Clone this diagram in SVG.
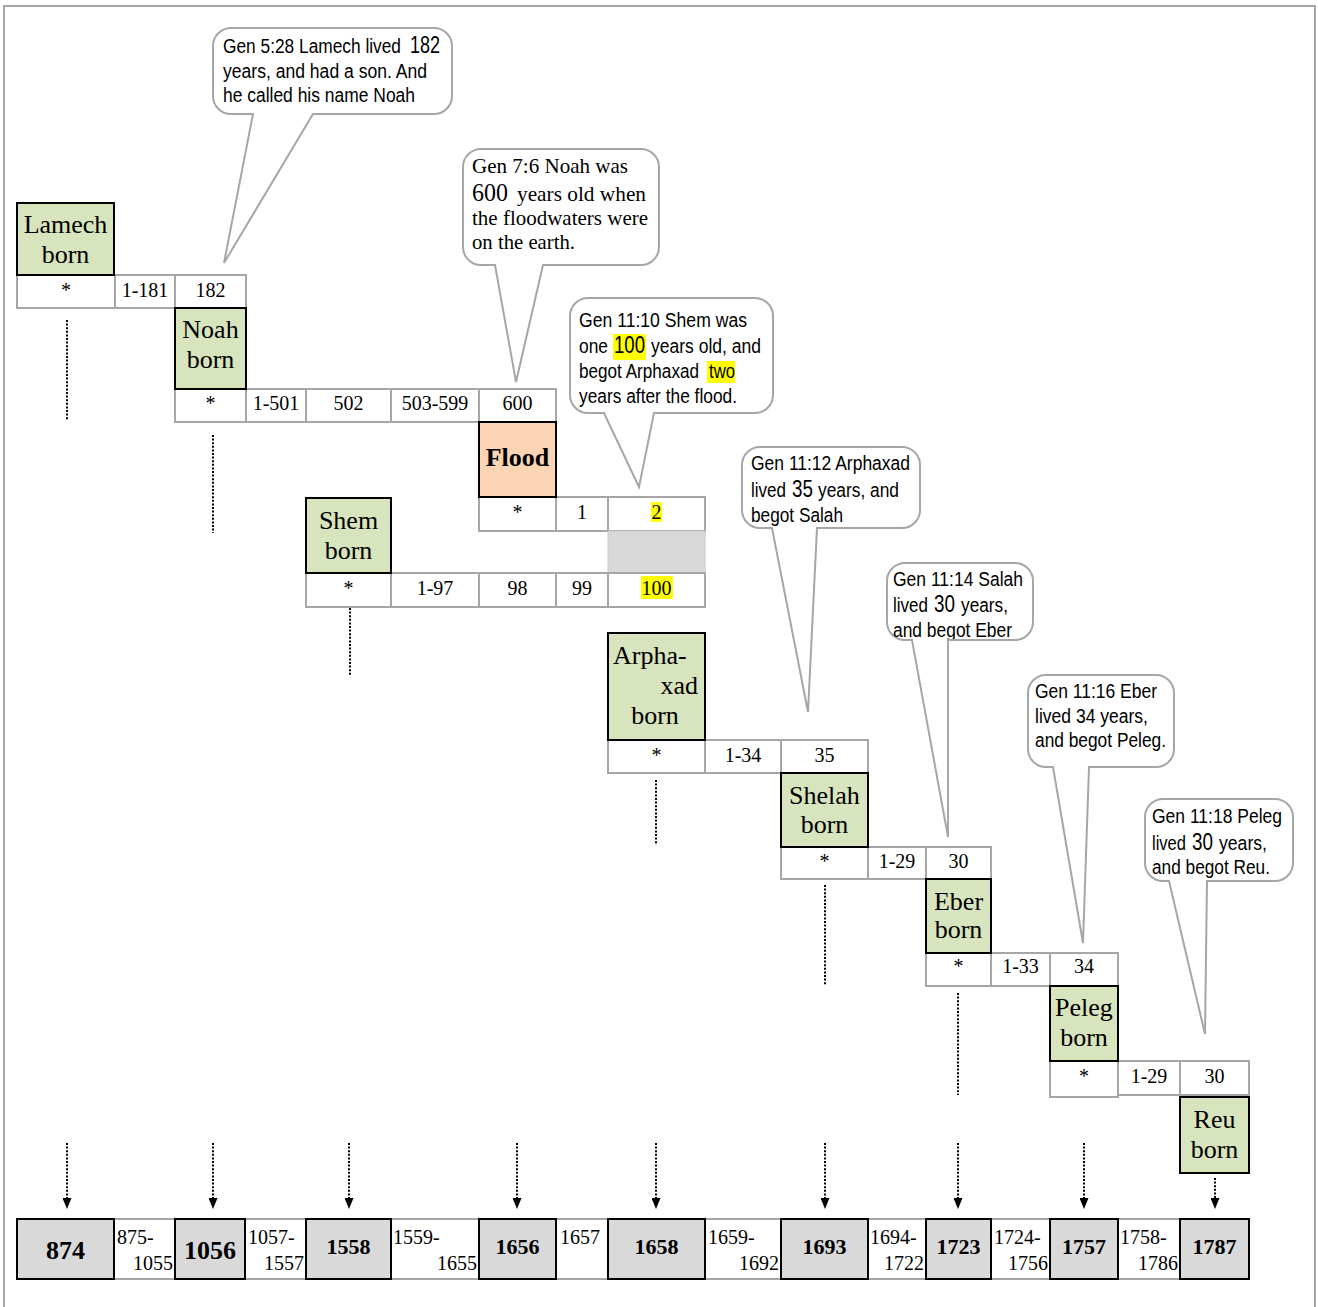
<svg xmlns="http://www.w3.org/2000/svg" width="1318" height="1307" viewBox="0 0 1318 1307">
<style>
.frame{fill:none;stroke:#a6a6a6;stroke-width:2}
.cell{fill:#fff;stroke:#a6a6a6;stroke-width:2}
.node{fill:#d7e4bd;stroke:#000;stroke-width:2}
.flood{fill:#fbd4b4;stroke:#000;stroke-width:2}
.tl{fill:#d9d9d9;stroke:#000;stroke-width:2}
.gray{fill:#d9d9d9;stroke:#c8c8c8;stroke-width:1}
.t{font-family:"Liberation Serif","Times New Roman",serif;fill:#000}
.nt{font-size:26px;text-anchor:middle}
.ct{font-size:20px;text-anchor:middle}
.gt{font-size:20px}
.bt{font-weight:bold;text-anchor:middle}
.co{fill:#fff;stroke:#a6a6a6;stroke-width:2}
.cs{font-family:"Liberation Sans Narrow","Liberation Sans",Arial,sans-serif;font-size:20px;fill:#000}
.big{font-size:23px}
.cr{font-family:"Liberation Serif","Times New Roman",serif;font-size:21px;fill:#000}
.hl{fill:#ffff00}
.dot{stroke:#000;stroke-width:2;stroke-dasharray:2 1.6;fill:none}
</style>
<defs>
<marker id="ah" markerWidth="11" markerHeight="9" refX="0" refY="4.5" orient="auto" markerUnits="userSpaceOnUse">
<path d="M0,0 L11,4.5 L0,9 Z" fill="#000"/>
</marker>
<clipPath id="c4"><rect x="742" y="447" width="178" height="80"/></clipPath>
<clipPath id="c5"><rect x="887" y="563" width="146" height="76"/></clipPath>
<clipPath id="c7"><rect x="1145" y="799" width="148" height="81"/></clipPath>
</defs>
<rect class="frame" x="4" y="6" width="1311" height="1320"/>

<g id="connectors">
<line class="dot" x1="67" y1="320" x2="67" y2="420"/>
<line class="dot" x1="213" y1="435" x2="213" y2="533"/>
<line class="dot" x1="350" y1="608" x2="350" y2="676"/>
<line class="dot" x1="656" y1="780" x2="656" y2="845"/>
<line class="dot" x1="825" y1="885" x2="825" y2="985"/>
<line class="dot" x1="958" y1="993" x2="958" y2="1095"/>
<line class="dot" x1="67" y1="1143" x2="67" y2="1198" marker-end="url(#ah)"/>
<line class="dot" x1="213" y1="1143" x2="213" y2="1198" marker-end="url(#ah)"/>
<line class="dot" x1="349" y1="1143" x2="349" y2="1198" marker-end="url(#ah)"/>
<line class="dot" x1="517" y1="1143" x2="517" y2="1198" marker-end="url(#ah)"/>
<line class="dot" x1="656" y1="1143" x2="656" y2="1198" marker-end="url(#ah)"/>
<line class="dot" x1="825" y1="1143" x2="825" y2="1198" marker-end="url(#ah)"/>
<line class="dot" x1="958" y1="1143" x2="958" y2="1198" marker-end="url(#ah)"/>
<line class="dot" x1="1084" y1="1143" x2="1084" y2="1198" marker-end="url(#ah)"/>
<line class="dot" x1="1215" y1="1178" x2="1215" y2="1198" marker-end="url(#ah)"/>
</g>

<g id="lamech-row">
<rect class="cell" x="17" y="275" width="98" height="33"/>
<rect class="cell" x="115" y="275" width="60" height="33"/>
<rect class="cell" x="175" y="275" width="71" height="33"/>
<text class="t ct" x="66" y="297">*</text>
<text class="t ct" x="145" y="297">1-181</text>
<text class="t ct" x="210.5" y="297">182</text>
</g>
<g id="lamech">
<rect class="node" x="17" y="203" width="97" height="72"/>
<text class="t nt" x="65.5" y="233">Lamech</text>
<text class="t nt" x="65.5" y="263">born</text>
</g>

<g id="noah-row">
<rect class="cell" x="175" y="389" width="71" height="33"/>
<rect class="cell" x="246" y="389" width="60" height="33"/>
<rect class="cell" x="306" y="389" width="85" height="33"/>
<rect class="cell" x="391" y="389" width="88" height="33"/>
<rect class="cell" x="479" y="389" width="77" height="33"/>
<text class="t ct" x="210.5" y="410">*</text>
<text class="t ct" x="276" y="410">1-501</text>
<text class="t ct" x="348.5" y="410">502</text>
<text class="t ct" x="435" y="410">503-599</text>
<text class="t ct" x="517.5" y="410">600</text>
</g>
<g id="noah">
<rect class="node" x="175" y="308" width="71" height="81"/>
<text class="t nt" x="210.5" y="338">Noah</text>
<text class="t nt" x="210.5" y="368">born</text>
</g>

<g id="flood-row">
<rect class="cell" x="479" y="497" width="77" height="34"/>
<rect class="cell" x="556" y="497" width="52" height="34"/>
<rect class="cell" x="608" y="497" width="97" height="34"/>
<rect class="hl" x="651" y="502" width="11" height="20"/>
<text class="t ct" x="517.5" y="519">*</text>
<text class="t ct" x="582" y="519">1</text>
<text class="t ct" x="656.5" y="519">2</text>
<rect class="gray" x="608" y="531" width="97" height="42"/>
</g>
<g id="flood">
<rect class="flood" x="479" y="422" width="77" height="75"/>
<text class="t bt" style="font-size:26px" x="517.5" y="466">Flood</text>
</g>

<g id="shem-row">
<rect class="cell" x="306" y="573" width="85" height="34"/>
<rect class="cell" x="391" y="573" width="88" height="34"/>
<rect class="cell" x="479" y="573" width="77" height="34"/>
<rect class="cell" x="556" y="573" width="52" height="34"/>
<rect class="cell" x="608" y="573" width="97" height="34"/>
<rect class="hl" x="641" y="576" width="32" height="23"/>
<text class="t ct" x="348.5" y="595">*</text>
<text class="t ct" x="435" y="595">1-97</text>
<text class="t ct" x="517.5" y="595">98</text>
<text class="t ct" x="582" y="595">99</text>
<text class="t ct" x="656.5" y="595">100</text>
</g>
<g id="shem">
<rect class="node" x="306" y="498" width="85" height="75"/>
<text class="t nt" x="348.5" y="529">Shem</text>
<text class="t nt" x="348.5" y="559">born</text>
</g>

<g id="arphaxad-row">
<rect class="cell" x="608" y="740" width="97" height="33"/>
<rect class="cell" x="705" y="740" width="76" height="33"/>
<rect class="cell" x="781" y="740" width="87" height="33"/>
<text class="t ct" x="656.5" y="762">*</text>
<text class="t ct" x="743" y="762">1-34</text>
<text class="t ct" x="824.5" y="762">35</text>
</g>
<g id="arphaxad">
<rect class="node" x="608" y="633" width="97" height="107"/>
<text class="t" style="font-size:26px" x="613" y="664">Arpha-</text>
<text class="t" style="font-size:26px;text-anchor:end" x="698" y="694">xad</text>
<text class="t nt" x="655" y="724">born</text>
</g>

<g id="shelah-row">
<rect class="cell" x="781" y="847" width="87" height="32"/>
<rect class="cell" x="868" y="847" width="58" height="32"/>
<rect class="cell" x="926" y="847" width="65" height="32"/>
<text class="t ct" x="824.5" y="868">*</text>
<text class="t ct" x="897" y="868">1-29</text>
<text class="t ct" x="958.5" y="868">30</text>
</g>
<g id="shelah">
<rect class="node" x="781" y="773" width="87" height="74"/>
<text class="t nt" x="824.5" y="804">Shelah</text>
<text class="t nt" x="824.5" y="833">born</text>
</g>

<g id="eber-row">
<rect class="cell" x="926" y="953" width="65" height="33"/>
<rect class="cell" x="991" y="953" width="59" height="33"/>
<rect class="cell" x="1050" y="953" width="68" height="33"/>
<text class="t ct" x="958.5" y="973">*</text>
<text class="t ct" x="1020.5" y="973">1-33</text>
<text class="t ct" x="1084" y="973">34</text>
</g>
<g id="eber">
<rect class="node" x="926" y="879" width="65" height="74"/>
<text class="t nt" x="958.5" y="910">Eber</text>
<text class="t nt" x="958.5" y="938">born</text>
</g>

<g id="peleg-row">
<rect class="cell" x="1050" y="1061" width="68" height="36"/>
<rect class="cell" x="1118" y="1061" width="62" height="34"/>
<rect class="cell" x="1180" y="1061" width="69" height="34"/>
<text class="t ct" x="1084" y="1083">*</text>
<text class="t ct" x="1149" y="1083">1-29</text>
<text class="t ct" x="1214.5" y="1083">30</text>
</g>
<g id="peleg">
<rect class="node" x="1050" y="986" width="68" height="75"/>
<text class="t nt" x="1084" y="1016">Peleg</text>
<text class="t nt" x="1084" y="1046">born</text>
</g>

<g id="reu">
<rect class="node" x="1180" y="1097" width="69" height="76"/>
<text class="t nt" x="1214.5" y="1128">Reu</text>
<text class="t nt" x="1214.5" y="1158">born</text>
</g>

<g id="timeline">
<rect class="cell" x="17" y="1219" width="1232" height="60"/>
<rect class="tl" x="17" y="1219" width="97" height="60"/>
<rect class="tl" x="175" y="1219" width="70" height="60"/>
<rect class="tl" x="306" y="1219" width="85" height="60"/>
<rect class="tl" x="479" y="1219" width="77" height="60"/>
<rect class="tl" x="608" y="1219" width="97" height="60"/>
<rect class="tl" x="781" y="1219" width="87" height="60"/>
<rect class="tl" x="926" y="1219" width="65" height="60"/>
<rect class="tl" x="1050" y="1219" width="68" height="60"/>
<rect class="tl" x="1180" y="1219" width="69" height="60"/>
<text class="t bt" style="font-size:26px" x="65.5" y="1259">874</text>
<text class="t bt" style="font-size:26px" x="210" y="1259">1056</text>
<text class="t bt" style="font-size:22px" x="348.5" y="1254">1558</text>
<text class="t bt" style="font-size:22px" x="517.5" y="1254">1656</text>
<text class="t bt" style="font-size:22px" x="656.5" y="1254">1658</text>
<text class="t bt" style="font-size:22px" x="824.5" y="1254">1693</text>
<text class="t bt" style="font-size:22px" x="958.5" y="1254">1723</text>
<text class="t bt" style="font-size:22px" x="1084" y="1254">1757</text>
<text class="t bt" style="font-size:22px" x="1214.5" y="1254">1787</text>
<text class="t gt" x="117" y="1244">875-</text>
<text class="t gt" x="173" y="1270" text-anchor="end">1055</text>
<text class="t gt" x="248" y="1244">1057-</text>
<text class="t gt" x="304" y="1270" text-anchor="end">1557</text>
<text class="t gt" x="393" y="1244">1559-</text>
<text class="t gt" x="477" y="1270" text-anchor="end">1655</text>
<text class="t gt" x="560" y="1244">1657</text>
<text class="t gt" x="708" y="1244">1659-</text>
<text class="t gt" x="779" y="1270" text-anchor="end">1692</text>
<text class="t gt" x="870" y="1244">1694-</text>
<text class="t gt" x="924" y="1270" text-anchor="end">1722</text>
<text class="t gt" x="994" y="1244">1724-</text>
<text class="t gt" x="1048" y="1270" text-anchor="end">1756</text>
<text class="t gt" x="1120" y="1244">1758-</text>
<text class="t gt" x="1178" y="1270" text-anchor="end">1786</text>
</g>

<g id="callout-lamech">
<path class="co" d="M231,28 H434 A18,18 0 0 1 452,46 V96 A18,18 0 0 1 434,114 H313 L224,263 L253,114 H231 A18,18 0 0 1 213,96 V46 A18,18 0 0 1 231,28 Z"/>
<text class="cs" x="223" y="53" textLength="178" lengthAdjust="spacingAndGlyphs">Gen 5:28 Lamech lived</text>
<text class="cs big" x="410" y="53" textLength="30" lengthAdjust="spacingAndGlyphs">182</text>
<text class="cs" x="223" y="78" textLength="204" lengthAdjust="spacingAndGlyphs">years, and had a son. And</text>
<text class="cs" x="223" y="102" textLength="192" lengthAdjust="spacingAndGlyphs">he called his name Noah</text>
</g>

<g id="callout-flood">
<path class="co" d="M481,149 H641 A18,18 0 0 1 659,167 V247 A18,18 0 0 1 641,265 H543 L516,382 L495,265 H481 A18,18 0 0 1 463,247 V167 A18,18 0 0 1 481,149 Z"/>
<text class="cr" x="472" y="173" textLength="156" lengthAdjust="spacingAndGlyphs">Gen 7:6 Noah was</text>
<text class="cr" style="font-size:25px" x="472" y="201" textLength="36" lengthAdjust="spacingAndGlyphs">600</text>
<text class="cr" x="517" y="201" textLength="129" lengthAdjust="spacingAndGlyphs">years old when</text>
<text class="cr" x="472" y="225" textLength="176" lengthAdjust="spacingAndGlyphs">the floodwaters were</text>
<text class="cr" x="472" y="249" textLength="103" lengthAdjust="spacingAndGlyphs">on the earth.</text>
</g>

<g id="callout-shem">
<path class="co" d="M588,298 H755 A18,18 0 0 1 773,316 V395 A18,18 0 0 1 755,413 H654 L639,487 L604,413 H588 A18,18 0 0 1 570,395 V316 A18,18 0 0 1 588,298 Z"/>
<rect class="hl" x="613" y="334" width="33" height="26"/>
<rect class="hl" x="707" y="361" width="28" height="22"/>
<text class="cs" x="579" y="327" textLength="168" lengthAdjust="spacingAndGlyphs">Gen 11:10 Shem was</text>
<text class="cs" x="579" y="353" textLength="29" lengthAdjust="spacingAndGlyphs">one</text>
<text class="cs big" x="614" y="353" textLength="31" lengthAdjust="spacingAndGlyphs">100</text>
<text class="cs" x="651" y="353" textLength="110" lengthAdjust="spacingAndGlyphs">years old, and</text>
<text class="cs" x="579" y="378" textLength="120" lengthAdjust="spacingAndGlyphs">begot Arphaxad</text>
<text class="cs" x="709" y="378" textLength="26" lengthAdjust="spacingAndGlyphs">two</text>
<text class="cs" x="579" y="403" textLength="158" lengthAdjust="spacingAndGlyphs">years after the flood.</text>
</g>

<g id="callout-arphaxad">
<path class="co" d="M760,447 H902 A18,18 0 0 1 920,465 V510 A18,18 0 0 1 902,528 H817 L808,712 L772,528 H760 A18,18 0 0 1 742,510 V465 A18,18 0 0 1 760,447 Z"/>
<g clip-path="url(#c4)">
<text class="cs" x="751" y="470" textLength="159" lengthAdjust="spacingAndGlyphs">Gen 11:12 Arphaxad</text>
<text class="cs" x="751" y="497" textLength="35" lengthAdjust="spacingAndGlyphs">lived</text>
<text class="cs big" x="792" y="497" textLength="21" lengthAdjust="spacingAndGlyphs">35</text>
<text class="cs" x="818" y="497" textLength="81" lengthAdjust="spacingAndGlyphs">years, and</text>
<text class="cs" x="751" y="522" textLength="92" lengthAdjust="spacingAndGlyphs">begot Salah</text>
</g>
</g>

<g id="callout-salah">
<path class="co" d="M905,563 H1015 A18,18 0 0 1 1033,581 V622 A18,18 0 0 1 1015,640 H948 L948,837 L912,640 H905 A18,18 0 0 1 887,622 V581 A18,18 0 0 1 905,563 Z"/>
<g clip-path="url(#c5)">
<text class="cs" x="893" y="586" textLength="130" lengthAdjust="spacingAndGlyphs">Gen 11:14 Salah</text>
<text class="cs" x="893" y="612" textLength="35" lengthAdjust="spacingAndGlyphs">lived</text>
<text class="cs big" x="934" y="612" textLength="21" lengthAdjust="spacingAndGlyphs">30</text>
<text class="cs" x="961" y="612" textLength="47" lengthAdjust="spacingAndGlyphs">years,</text>
<text class="cs" x="893" y="637" textLength="119" lengthAdjust="spacingAndGlyphs">and begot Eber</text>
</g>
</g>

<g id="callout-eber">
<path class="co" d="M1046,675 H1156 A18,18 0 0 1 1174,693 V749 A18,18 0 0 1 1156,767 H1089 L1083,943 L1053,767 H1046 A18,18 0 0 1 1028,749 V693 A18,18 0 0 1 1046,675 Z"/>
<text class="cs" x="1035" y="698" textLength="122" lengthAdjust="spacingAndGlyphs">Gen 11:16 Eber</text>
<text class="cs" x="1035" y="723" textLength="113" lengthAdjust="spacingAndGlyphs">lived 34 years,</text>
<text class="cs" x="1035" y="747" textLength="131" lengthAdjust="spacingAndGlyphs">and begot Peleg.</text>
</g>

<g id="callout-peleg">
<path class="co" d="M1163,799 H1275 A18,18 0 0 1 1293,817 V863 A18,18 0 0 1 1275,881 H1207 L1205,1034 L1169,881 H1163 A18,18 0 0 1 1145,863 V817 A18,18 0 0 1 1163,799 Z"/>
<g clip-path="url(#c7)">
<text class="cs" x="1152" y="823" textLength="130" lengthAdjust="spacingAndGlyphs">Gen 11:18 Peleg</text>
<text class="cs" x="1152" y="850" textLength="34" lengthAdjust="spacingAndGlyphs">lived</text>
<text class="cs big" x="1192" y="850" textLength="21" lengthAdjust="spacingAndGlyphs">30</text>
<text class="cs" x="1219" y="850" textLength="48" lengthAdjust="spacingAndGlyphs">years,</text>
<text class="cs" x="1152" y="874" textLength="118" lengthAdjust="spacingAndGlyphs">and begot Reu.</text>
</g>
</g>
</svg>
